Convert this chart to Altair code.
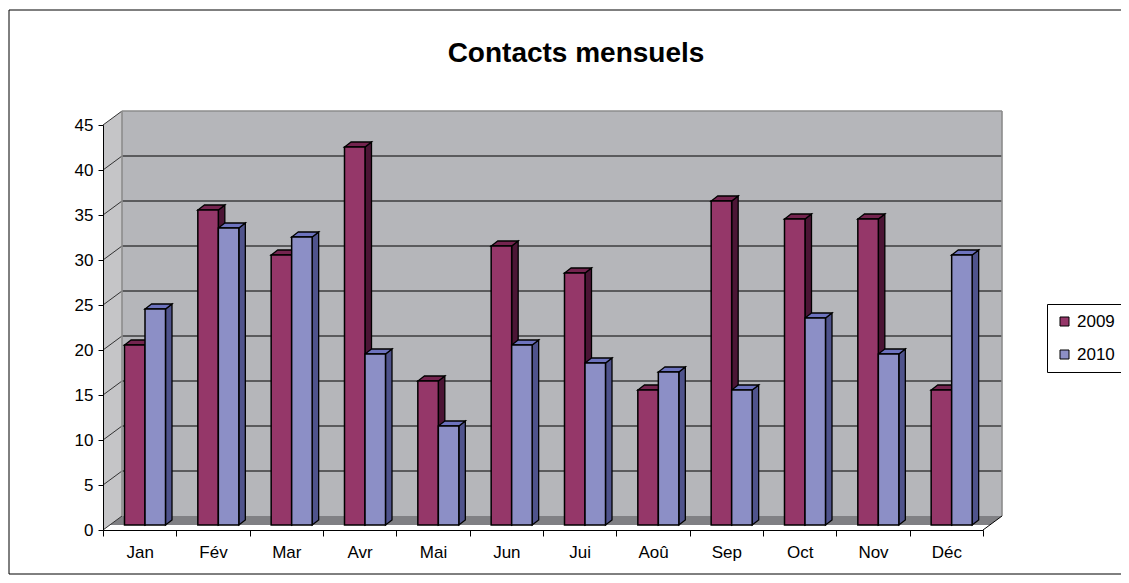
import altair as alt
import pandas as pd

months = ["Jan", "Fév", "Mar", "Avr", "Mai", "Jun", "Jui", "Aoû", "Sep", "Oct", "Nov", "Déc"]
v2009 = [20, 35, 30, 42, 16, 31, 28, 15, 36, 34, 34, 15]
v2010 = [24, 33, 32, 19, 11, 20, 18, 17, 15, 23, 19, 30]
years = ["2009", "2010"]
y_ticks = [0, 5, 10, 15, 20, 25, 30, 35, 40, 45]

FRONT = ["#953769", "#8C8FC6"]
TOPC = ["#74244F", "#6D73BE"]
SIDE = ["#4B1535", "#4F538C"]
FONT = "Liberation Sans"

N = len(months)
YMAX = 45
W, H = 880, 405
ux = N / W      # data units per pixel (x)
uy = YMAX / H   # data units per pixel (y)

WALL_DX, WALL_DY = 19, 14     # depth of the box (px)
BAR_DX, BAR_DY = 6.5, 5       # depth of a column (px)
BASE = 5                      # columns sit this many px above the axis
BAR_L = [21.5, 42.0]
BAR_W = 20.5

front, side, topf = [], [], []
pid = 0
for s, (yr, vals) in enumerate(zip(years, [v2009, v2010])):
    for i, (m, v) in enumerate(zip(months, vals)):
        xl = i + BAR_L[s] * ux
        xr = xl + BAR_W * ux
        b = BASE * uy
        t = v + b
        front.append(dict(year=yr, month=m, value=v, x=xl, x2=xr, y=t, y2=b))
        side.append(dict(pid=pid, year=yr, x=xr, y=t, y2=b))
        side.append(dict(pid=pid, year=yr, x=xr + BAR_DX * ux, y=t + BAR_DY * uy, y2=b + BAR_DY * uy))
        topf.append(dict(pid=pid, year=yr, y=t, x=xl, x2=xr))
        topf.append(dict(pid=pid, year=yr, y=t + BAR_DY * uy, x=xl + BAR_DX * ux, x2=xr + BAR_DX * ux))
        pid += 1

front_df = pd.DataFrame(front)
side_df = pd.DataFrame(side)
top_df = pd.DataFrame(topf)

xs = alt.Scale(domain=[0, N], nice=False, zero=False)
ys = alt.Scale(domain=[0, YMAX], nice=False, zero=False)

label_expr = "datum.value < 12 ? [" + ",".join("'" + m + "'" for m in months) + "][datum.value] : ''"
X_AXIS = alt.Axis(values=list(range(N + 1)), labelExpr=label_expr, labelOffset=W / N / 2,
                  labelFlush=False, labelOverlap=False, title=None, grid=False,
                  domainColor="black", tickColor="black", tickSize=6, labelPadding=8,
                  labelFont=FONT, labelFontSize=17, labelColor="black", zindex=2)
Y_AXIS = alt.Axis(values=y_ticks, title=None, grid=False, domainColor="black", tickColor="black",
                  tickSize=5, labelPadding=5, labelFont=FONT, labelFontSize=17, labelColor="black",
                  zindex=2)

def X(f="x:Q"):
    return alt.X(f, scale=xs, axis=X_AXIS)

def Y(f="y:Q"):
    return alt.Y(f, scale=ys, axis=Y_AXIS)

# box geometry
wdx = WALL_DX * ux
wdy = WALL_DY * uy
back_df = pd.DataFrame([dict(x=wdx, x2=N + wdx, y=wdy, y2=YMAX + wdy)])
left_df = pd.DataFrame([dict(x=0, y=0, y2=YMAX), dict(x=wdx, y=wdy, y2=YMAX + wdy)])
floor_df = pd.DataFrame([
    dict(y=BASE * uy, x=wdx * BASE / WALL_DY, x2=N + wdx * BASE / WALL_DY),
    dict(y=wdy, x=wdx, x2=N + wdx),
])
grid_df = pd.DataFrame([dict(v=v, x=wdx, x2=N + wdx, y=v + wdy) for v in y_ticks[1:-1]])
diag_df = pd.DataFrame([dict(x=0, x2=wdx, y=v, y2=v + wdy) for v in y_ticks])
edge_df = pd.DataFrame([dict(x=wdx, x2=wdx, y=wdy, y2=YMAX + wdy),
                        dict(x=wdx, x2=N + wdx, y=YMAX + wdy, y2=YMAX + wdy),
                        dict(x=N + wdx, x2=N + wdx, y=wdy, y2=YMAX + wdy)])
rdiag_df = pd.DataFrame([dict(x=N, x2=N + wdx, y=0, y2=wdy)])

back = alt.Chart(back_df).mark_rect(color="#B5B6BA").encode(
    x=X(), x2="x2:Q", y=Y(), y2="y2:Q")

leftwall = alt.Chart(left_df).mark_area(color="#C5C5C7", orient="vertical").encode(
    x=X(), y=Y(), y2="y2:Q")

floor = alt.Chart(floor_df).mark_area(color="#808084", orient="horizontal").encode(
    y=Y(), x=X(), x2="x2:Q")

grid = alt.Chart(grid_df).mark_rule(color="#000000", strokeWidth=1).encode(
    x=X(), x2="x2:Q", y=Y())

diag = alt.Chart(diag_df).mark_rule(color="#333333", strokeWidth=1).encode(
    x=X(), x2="x2:Q", y=Y(), y2="y2:Q")

edges = alt.Chart(edge_df).mark_rule(color="#8C8C8C", strokeWidth=1.6).encode(
    x=X(), x2="x2:Q", y=Y(), y2="y2:Q")

rdiag = alt.Chart(rdiag_df).mark_rule(color="#000000", strokeWidth=1).encode(
    x=X(), x2="x2:Q", y=Y(), y2="y2:Q")

sides = alt.Chart(side_df).mark_area(orient="vertical", stroke="black", strokeWidth=1.3,
                                    fillOpacity=1).encode(
    x=X(), y=Y(), y2="y2:Q",
    detail="pid:N",
    color=alt.Color("year:N", scale=alt.Scale(domain=years, range=SIDE), legend=None))

tops = alt.Chart(top_df).mark_area(orient="horizontal", stroke="black", strokeWidth=1.3,
                                  fillOpacity=1).encode(
    y=Y(), x=X(), x2="x2:Q",
    detail="pid:N",
    color=alt.Color("year:N", scale=alt.Scale(domain=years, range=TOPC), legend=None))

fronts = alt.Chart(front_df).mark_rect(stroke="black", strokeWidth=1.5).encode(
    x=X(), x2="x2:Q", y=Y(), y2="y2:Q",
    color=alt.Color("year:N", scale=alt.Scale(domain=years, range=FRONT),
                    legend=alt.Legend(title=None, orient="none", legendX=944, legendY=179,
                                      strokeColor="black", fillColor="white", padding=9,
                                      symbolType="square", symbolSize=81,
                                      symbolStrokeColor="black", symbolStrokeWidth=1,
                                      labelFont=FONT, labelFontSize=17, labelColor="black",
                                      rowPadding=15, labelOffset=4)),
)

title_df = pd.DataFrame([dict(t="Contacts mensuels")])
title = alt.Chart(title_df).mark_text(font=FONT, fontSize=28, fontWeight="bold", color="black",
                                      align="center", baseline="alphabetic").encode(
    text="t:N", x=alt.value(473), y=alt.value(-63))

border = alt.Chart(pd.DataFrame([dict(a=1)])).mark_rect(fillOpacity=0, stroke="black",
                                                        strokeWidth=1).encode(
    x=alt.value(-94), x2=alt.value(1060), y=alt.value(-115), y2=alt.value(449))

chart = alt.layer(
    border, title, back, leftwall, floor, grid, diag, edges, rdiag, sides, tops, fronts
).resolve_scale(color="independent").properties(
    width=W, height=H,
    autosize=alt.AutoSizeParams(type="none"),
    padding={"left": 95, "top": 117, "right": 138, "bottom": 45},
    background="white",
).configure_view(stroke=None)

chart.save("out.html", embed_options={"renderer": "svg", "actions": False})
